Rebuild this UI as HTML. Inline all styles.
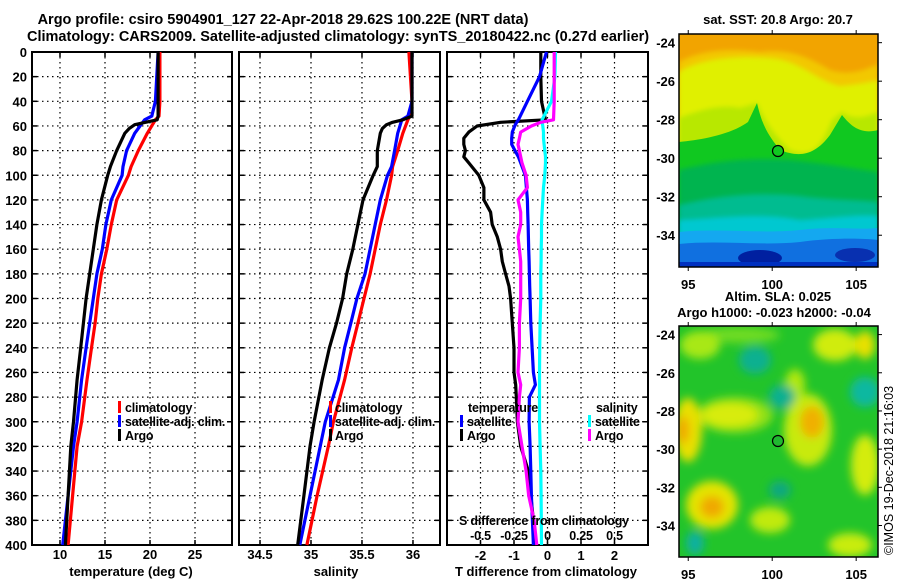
<!DOCTYPE html>
<html><head><meta charset="utf-8"><style>
html,body{margin:0;padding:0;background:#fff;}
svg{display:block;font-family:"Liberation Sans",sans-serif;}
.t{font-weight:bold;font-size:13px;fill:#000;}
.lg{font-weight:bold;font-size:12.5px;fill:#000;letter-spacing:-0.2px;}
.ttl{font-weight:bold;font-size:14.5px;fill:#000;}
</style></head><body>
<svg id="chart" width="900" height="580" viewBox="0 0 900 580" xmlns="http://www.w3.org/2000/svg">
<defs>
<filter id="bl" x="-50%" y="-50%" width="200%" height="200%"><feGaussianBlur stdDeviation="4.5"/></filter>
<filter id="bl2" x="-50%" y="-50%" width="200%" height="200%"><feGaussianBlur stdDeviation="2.5"/></filter>
<clipPath id="m1c"><rect x="679" y="34" width="199" height="233"/></clipPath>
<clipPath id="m2c"><rect x="679" y="326" width="199" height="231"/></clipPath>
</defs>
<text class="ttl" x="283" y="24" text-anchor="middle">Argo profile: csiro 5904901_127 22-Apr-2018 29.62S 100.22E (NRT data)</text>
<text class="ttl" x="27" y="41">Climatology: CARS2009. Satellite-adjusted climatology: synTS_20180422.nc (0.27d earlier)</text>

<g id="grids"></g>
<g id="curves"></g>

<g>
<rect x="118" y="401" width="3" height="12" fill="#f00"/><text class="lg" x="125" y="412">climatology</text>
<rect x="118" y="415" width="3" height="12" fill="#00f"/><text class="lg" x="125" y="426">satellite-adj. clim.</text>
<rect x="118" y="429" width="3" height="12" fill="#000"/><text class="lg" x="125" y="440">Argo</text>
</g>
<g>
<rect x="329" y="401" width="3" height="12" fill="#f00"/><text class="lg" x="335" y="412">climatology</text>
<rect x="329" y="415" width="3" height="12" fill="#00f"/><text class="lg" x="335" y="426">satellite-adj. clim.</text>
<rect x="329" y="429" width="3" height="12" fill="#000"/><text class="lg" x="335" y="440">Argo</text>
</g>
<g>
<text class="lg" x="468" y="412">temperature</text>
<rect x="460" y="415" width="3" height="12" fill="#00f"/><text class="lg" x="467" y="426">satellite</text>
<rect x="460" y="429" width="3" height="12" fill="#000"/><text class="lg" x="467" y="440">Argo</text>
<text class="lg" x="596" y="412">salinity</text>
<rect x="588" y="415" width="3" height="12" fill="#0ff"/><text class="lg" x="595" y="426">satellite</text>
<rect x="588" y="429" width="3" height="12" fill="#f0f"/><text class="lg" x="595" y="440">Argo</text>
<text class="lg" x="459" y="525">S difference from climatology</text>
</g>
<text class="t" x="131" y="576" text-anchor="middle">temperature (deg C)</text>
<text class="t" x="336" y="576" text-anchor="middle">salinity</text>
<text class="t" x="546" y="576" text-anchor="middle">T difference from climatology</text>

<text class="t" x="778" y="24" text-anchor="middle">sat. SST: 20.8 Argo: 20.7</text>
<g clip-path="url(#m1c)">
<rect x="679" y="34" width="199" height="233" fill="#f2a400"/>
<path d="M679,62 C700,50 730,48 760,52 C790,48 810,58 830,70 C850,76 865,70 878,64 L878,267 L679,267Z" fill="#f2c800" filter="url(#bl2)"/>
<path d="M679,72 C700,58 740,55 770,58 C800,60 815,80 840,86 C860,84 870,82 878,80 L878,267 L679,267Z" fill="#e0f000" filter="url(#bl2)"/>
<path d="M679,118 C700,110 720,104 740,108 L757,103 C765,120 770,130 790,150 C810,158 820,150 832,120 L842,112 C850,118 860,120 878,112 L878,267 L679,267Z" fill="#b8e800" filter="url(#bl2)"/>
<path d="M679,142 C700,140 730,135 748,122 L757,103 C762,125 768,135 780,150 C800,158 815,155 830,135 L842,115 C850,125 860,135 878,130 L878,267 L679,267Z" fill="#10c820"/>
<path d="M679,170 C720,160 750,158 790,160 C820,163 850,168 878,172 L878,267 L679,267Z" fill="#00b450" filter="url(#bl2)"/>
<path d="M679,205 C720,195 760,192 800,196 C830,200 860,200 878,202 L878,267 L679,267Z" fill="#00bc90" filter="url(#bl2)"/>
<path d="M679,220 C720,218 760,212 800,220 C830,218 860,214 878,216 L878,267 L679,267Z" fill="#00c8d0" filter="url(#bl2)"/>
<path d="M679,232 C720,228 760,234 800,230 C830,226 860,230 878,228 L878,267 L679,267Z" fill="#14a8f0"/>
<path d="M679,244 C720,240 760,246 800,242 C830,238 860,238 878,240 L878,267 L679,267Z" fill="#1070e0"/>
<ellipse cx="760" cy="258" rx="22" ry="8" fill="#0020a0"/>
<ellipse cx="855" cy="255" rx="20" ry="7" fill="#0830b0"/>
<rect x="679" y="262" width="199" height="5" fill="#0030c0"/>
</g>
<rect x="679" y="34" width="199" height="233" fill="none" stroke="#000" stroke-width="1.5"/>
<circle cx="778" cy="151" r="5.5" fill="#10c820" stroke="#000" stroke-width="1.2"/>
<g id="map1ticks"></g>

<text class="t" x="778" y="301" text-anchor="middle">Altim. SLA: 0.025</text>
<text class="t" x="774" y="317" text-anchor="middle">Argo h1000: -0.023 h2000: -0.04</text>
<g clip-path="url(#m2c)">
<rect x="679" y="326" width="199" height="231" fill="#22c42a"/>
<g filter="url(#bl)">
<ellipse cx="740" cy="335" rx="40" ry="8" fill="#70dc20"/>
<ellipse cx="735" cy="415" rx="38" ry="18" fill="#90e018"/>
<ellipse cx="730" cy="415" rx="28" ry="12" fill="#d8ec10"/>
<ellipse cx="688" cy="430" rx="14" ry="32" fill="#e8e000"/>
<ellipse cx="683" cy="430" rx="6" ry="14" fill="#f0a800"/>
<ellipse cx="700" cy="345" rx="20" ry="14" fill="#a8e818"/>
<ellipse cx="835" cy="345" rx="22" ry="16" fill="#d0ec10"/>
<ellipse cx="865" cy="345" rx="10" ry="14" fill="#e8e000"/>
<ellipse cx="808" cy="430" rx="24" ry="36" fill="#c8ea10"/>
<ellipse cx="812" cy="422" rx="12" ry="16" fill="#f0b000"/>
<ellipse cx="795" cy="385" rx="10" ry="16" fill="#b0e810"/>
<ellipse cx="865" cy="465" rx="14" ry="30" fill="#d4ec10"/>
<ellipse cx="712" cy="505" rx="26" ry="24" fill="#e4e400"/>
<ellipse cx="712" cy="507" rx="12" ry="11" fill="#f0a800"/>
<ellipse cx="770" cy="520" rx="20" ry="13" fill="#c0ea10"/>
<ellipse cx="850" cy="545" rx="22" ry="12" fill="#c8ec10"/>
<ellipse cx="755" cy="360" rx="16" ry="14" fill="#10b090"/>
<ellipse cx="782" cy="397" rx="13" ry="12" fill="#10b090"/>
<ellipse cx="865" cy="392" rx="15" ry="15" fill="#10b8a0"/>
<ellipse cx="780" cy="490" rx="11" ry="9" fill="#10a880"/>
<ellipse cx="695" cy="543" rx="9" ry="12" fill="#10b0a0"/>
</g>
</g>
<rect x="679" y="326" width="199" height="231" fill="none" stroke="#000" stroke-width="1.5"/>
<circle cx="778" cy="441" r="5.5" fill="#20b830" stroke="#000" stroke-width="1.2"/>
<g id="map2ticks"></g>
<text transform="translate(893,555) rotate(-90)" font-size="12.5" fill="#000">©IMOS 19-Dec-2018 21:16:03</text>

<script>
var depthTicks = [0,20,40,60,80,100,120,140,160,180,200,220,240,260,280,300,320,340,360,380,400];
var tempTicks = [10,15,20,25];
var salTicks = [34.5,35,35.5,36];
var tdiffTicks = [-2,-1,0,1,2];
var sdiffTicks = [-0.5,-0.25,0,0.25,0.5];
var sdiffLabels = ['-0.5','-0.25','0','0.25','0.5'];
var lonTicks = [95,100,105];
var latTicks = [-24,-26,-28,-30,-32,-34];

var climDepth = [0,40,52,55,66,80,93,100,120,140,160,180,200,220,240,266,300,320,360,400];
var climT = [21.1,21.1,21.0,20.6,19.7,18.7,17.9,17.6,16.3,15.7,15.2,14.6,14.2,13.9,13.5,13.0,12.4,11.9,11.4,10.9];
var satT = [20.9,20.6,20.2,19.4,18.3,17.4,17.0,16.9,15.7,15.1,14.7,14.1,13.7,13.3,12.9,12.4,11.9,11.5,10.9,10.3];
var climS = [35.96,35.99,35.97,35.95,35.9,35.85,35.8,35.79,35.74,35.68,35.63,35.58,35.52,35.46,35.4,35.33,35.22,35.17,35.06,34.96];
var satS = [35.99,35.99,35.95,35.89,35.85,35.82,35.79,35.75,35.68,35.63,35.58,35.53,35.45,35.39,35.33,35.27,35.14,35.09,34.99,34.89];

var argoDepth = [0,52,55,57,59,62,66,80,93,100,120,140,160,180,200,220,240,266,300,320,360,400];
var argoT = [20.9,20.9,20.8,19.5,18.3,17.7,17.2,16.3,15.6,15.3,14.6,14.1,13.7,13.3,12.9,12.6,12.3,11.9,11.5,11.2,10.9,10.6];
var argoS = [35.99,35.99,35.9,35.8,35.74,35.7,35.68,35.65,35.65,35.61,35.51,35.46,35.41,35.35,35.31,35.25,35.18,35.11,35.03,34.99,34.93,34.87];

var diffDepth = [0,20,40,55,57,60,65,70,75,80,85,90,100,110,120,130,140,150,160,170,180,190,200,220,240,260,270,280,300,320,340,360,380,400];
var argoDT = [-0.2,-0.2,-0.18,-0.06,-1.4,-2.1,-2.35,-2.5,-2.5,-2.45,-2.5,-2.35,-2.05,-1.9,-1.9,-1.7,-1.65,-1.5,-1.4,-1.35,-1.25,-1.15,-1.1,-1.05,-1.0,-1.0,-0.95,-0.93,-0.9,-0.8,-0.57,-0.5,-0.42,-0.36];
var satDT = [-0.03,-0.24,-0.6,-0.87,-0.92,-0.98,-1.05,-1.07,-1.07,-0.97,-0.87,-0.8,-0.66,-0.63,-0.6,-0.59,-0.58,-0.57,-0.56,-0.55,-0.54,-0.53,-0.52,-0.5,-0.46,-0.42,-0.36,-0.54,-0.55,-0.52,-0.5,-0.48,-0.45,-0.42];
var argoDS = [0.05,0.05,0.05,0.045,-0.05,-0.12,-0.2,-0.21,-0.22,-0.21,-0.2,-0.19,-0.16,-0.15,-0.22,-0.2,-0.2,-0.22,-0.21,-0.2,-0.2,-0.2,-0.2,-0.21,-0.21,-0.22,-0.2,-0.21,-0.22,-0.19,-0.16,-0.14,-0.1,-0.08];
var satDS = [0.06,0.055,0.03,-0.04,-0.04,-0.035,-0.03,-0.03,-0.025,-0.02,-0.015,-0.015,-0.02,-0.03,-0.035,-0.04,-0.045,-0.045,-0.047,-0.048,-0.05,-0.05,-0.05,-0.055,-0.058,-0.06,-0.06,-0.06,-0.06,-0.055,-0.05,-0.048,-0.046,-0.045];

var NS = 'http://www.w3.org/2000/svg';
var Y0 = 52, Y1 = 545;
function yD(d){ return Y0 + d/400*(Y1-Y0); }
var panels = [
  {x0:32, x1:232, v0:6.89, v1:29.11, ticks:tempTicks, name:'temperature'},
  {x0:239, x1:440, v0:34.294, v1:36.265, ticks:salTicks, name:'salinity'},
  {x0:447, x1:648, v0:-3.0, v1:3.0, ticks:tdiffTicks, name:'difference'}
];
function xf(p, v){ return p.x0 + (v-p.v0)/(p.v1-p.v0)*(p.x1-p.x0); }
function xS(v){ return xf(panels[2], v*4); }

function mk(tag, attrs, parent){
  var e = document.createElementNS(NS, tag);
  for (var k in attrs) e.setAttribute(k, attrs[k]);
  parent.appendChild(e); return e;
}
var G = document.getElementById('grids');
panels.forEach(function(p, pi){
  var g = mk('g', {}, G);
  
  
  depthTicks.forEach(function(d){
    var y = yD(d);
    if (d>0 && d<400) mk('line', {x1:p.x0, x2:p.x1, y1:y, y2:y, stroke:'#000', 'stroke-width':1.2, 'stroke-dasharray':'1.5,3.5'}, g);
    mk('line', {x1:p.x0, x2:p.x0+5, y1:y, y2:y, stroke:'#000', 'stroke-width':1.5}, g);
    mk('line', {x1:p.x1-5, x2:p.x1, y1:y, y2:y, stroke:'#000', 'stroke-width':1.5}, g);
    if (pi===0){
      var t = mk('text', {x:27, y:y+5, 'text-anchor':'end', 'class':'t'}, g);
      t.textContent = d;
      
      
    }
  });
  p.ticks.forEach(function(v){
    var x = xf(p, v);
    mk('line', {x1:x, x2:x, y1:Y0, y2:Y1, stroke:'#000', 'stroke-width':1.2, 'stroke-dasharray':'1.5,3.5'}, g);
    mk('line', {x1:x, x2:x, y1:Y1-5, y2:Y1, stroke:'#000', 'stroke-width':1.5}, g);
    mk('line', {x1:x, x2:x, y1:Y0, y2:Y0+5, stroke:'#000', 'stroke-width':1.5}, g);
    var t = mk('text', {x:x, y:pi===2?560:559, 'text-anchor':'middle', 'class':'t'}, g);
    t.textContent = v;
    
    
  });
  mk('rect', {x:p.x0, y:Y0, width:p.x1-p.x0, height:Y1-Y0, fill:'none', stroke:'#000', 'stroke-width':2}, g);
});
sdiffTicks.forEach(function(v, i){
  var t = mk('text', {x:xS(v), y:540, 'text-anchor':'middle', 'class':'lg'}, G);
  t.textContent = sdiffLabels[i];
  
  
});

var C = document.getElementById('curves');
function line(depths, vals, fx, color, name){
  var pts = depths.map(function(d, i){ return fx(vals[i]).toFixed(1) + ',' + yD(d).toFixed(1); }).join(' ');
  var e = mk('polyline', {points:pts, fill:'none', stroke:color, 'stroke-width':3.2, 'stroke-linejoin':'round'}, C);
  
  
}
var fT = function(v){ return xf(panels[0], v); };
var fS = function(v){ return xf(panels[1], v); };
var fD = function(v){ return xf(panels[2], v); };
line(climDepth, climT, fT, '#f00', 'climatology-temperature-line');
line(climDepth, satT, fT, '#00f', 'satellite-temperature-line');
line(argoDepth, argoT, fT, '#000', 'argo-temperature-line');
line(climDepth, climS, fS, '#f00', 'climatology-salinity-line');
line(climDepth, satS, fS, '#00f', 'satellite-salinity-line');
line(argoDepth, argoS, fS, '#000', 'argo-salinity-line');
line(diffDepth, argoDT, fD, '#000', 'argo-t-diff-line');
line(diffDepth, satDT, fD, '#00f', 'satellite-t-diff-line');
line(diffDepth, satDS, xS, '#0ff', 'satellite-s-diff-line');
line(diffDepth, argoDS, xS, '#f0f', 'argo-s-diff-line');

function mapTicks(gid, top, bot, latTop, latBot){
  var g = document.getElementById(gid);
  var lon = function(v){ return 679 + (v-94.45)/(106.3-94.45)*199; };
  var lat = function(v){ return top + (latTop - v)/(latTop-latBot)*(bot-top); };
  lonTicks.forEach(function(v){
    var x = lon(v);
    mk('line', {x1:x, x2:x, y1:top-4, y2:top, stroke:'#000', 'stroke-width':1}, g);
    mk('line', {x1:x, x2:x, y1:bot, y2:bot+4, stroke:'#000', 'stroke-width':1}, g);
    var t = mk('text', {x:x, y:bot+22, 'text-anchor':'middle', 'class':'t'}, g);
    t.textContent = v;
    
    
  });
  latTicks.forEach(function(v){
    var y = lat(v);
    mk('line', {x1:878, x2:882, y1:y, y2:y, stroke:'#000', 'stroke-width':1}, g);
    var t = mk('text', {x:675, y:y+5, 'text-anchor':'end', 'class':'t'}, g);
    t.textContent = v;
    
    
  });
}
mapTicks('map1ticks', 34, 267, -23.55, -35.65);
mapTicks('map2ticks', 326, 557, -23.55, -35.65);
</script>
</svg>
</body></html>
